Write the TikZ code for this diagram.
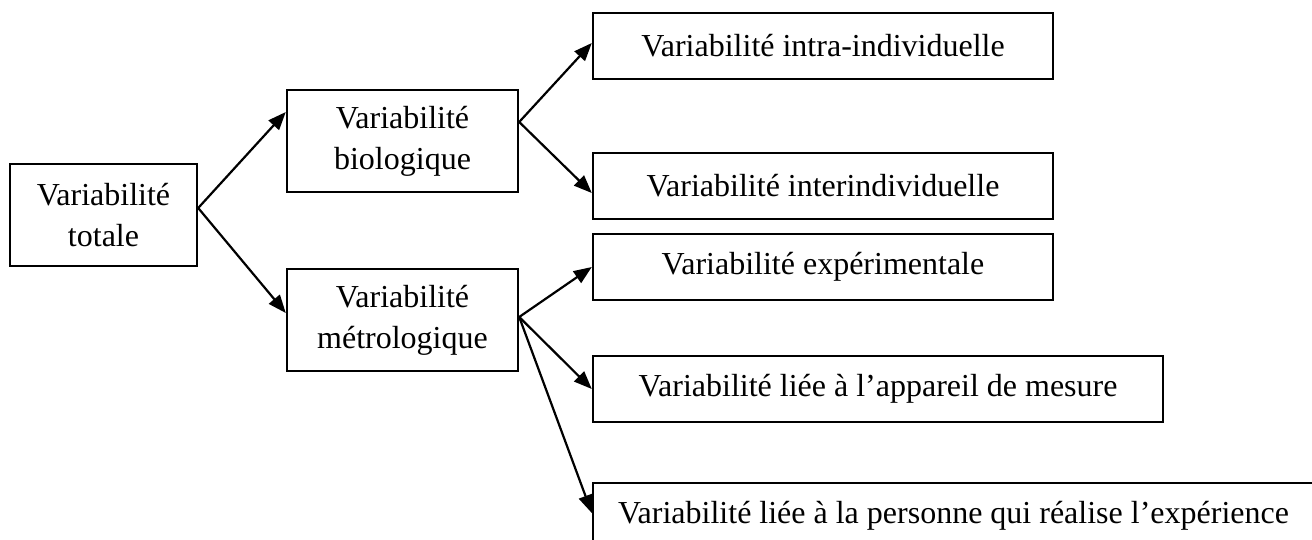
\documentclass[tikz,border=0pt]{standalone}
\usepackage{fontspec}
\setmainfont{Liberation Serif}
\usetikzlibrary{positioning, calc, arrows.meta}

\begin{document}
\begin{tikzpicture}[x=0.5pt, y=-0.5pt,
  cell/.style={rectangle, draw, line width=1.2pt, align=center, inner sep=0pt, minimum height=33pt, font=\fontsize{16}{20.5}\selectfont},
  big/.style={minimum height=51pt},
  link/.style={-{Triangle[length=9pt,width=7pt]}, line width=1.1pt}]

\useasboundingbox (0,0) rectangle (1312,540);
\clip (0,0) rectangle (1312,540);

\node[cell, big, minimum width=93.5pt] at (103.5,215) (tot) {Variabilit\'e\\totale};

\node[cell, big, minimum width=115.5pt] at (402.5,141) (bio) {Variabilit\'e\\biologique};
\node[cell, big, minimum width=115.5pt] at (402.5,320) (metro) {Variabilit\'e\\m\'etrologique};

\node[cell, minimum width=230pt] at (823,46) (intra) {Variabilit\'e intra-individuelle};
\node[cell, minimum width=230pt] at (823,186) (inter) {Variabilit\'e interindividuelle};

\node[cell, minimum width=230pt] at (823,267) (exp) {Variabilit\'e exp\'erimentale};
\node[cell, minimum width=285pt] at (878,389) (app) {Variabilit\'e li\'ee \`a l’appareil de mesure};
\node[cell, minimum width=360.5pt] at (953.5,516) (pers) {Variabilit\'e li\'ee \`a la personne qui r\'ealise l’exp\'erience};

\draw[link] ($(tot.east)+(0,-7)$) -- ($(bio.west)+(0,-29)$);
\draw[link] ($(tot.east)+(0,-7)$) -- ($(metro.west)+(0,-7)$);

\draw[link] ($(bio.east)+(0,-19)$) -- ($(intra.west)+(0,-3)$);
\draw[link] ($(bio.east)+(0,-19)$) -- ($(inter.west)+(0,7)$);

\draw[link] ($(metro.east)+(0,-3)$) -- (exp.west);
\draw[link] ($(metro.east)+(0,-3)$) -- (app.west);
\draw[link] ($(metro.east)+(0,-3)$) -- ($(pers.west)+(0,-3)$);
\end{tikzpicture}
\end{document}
